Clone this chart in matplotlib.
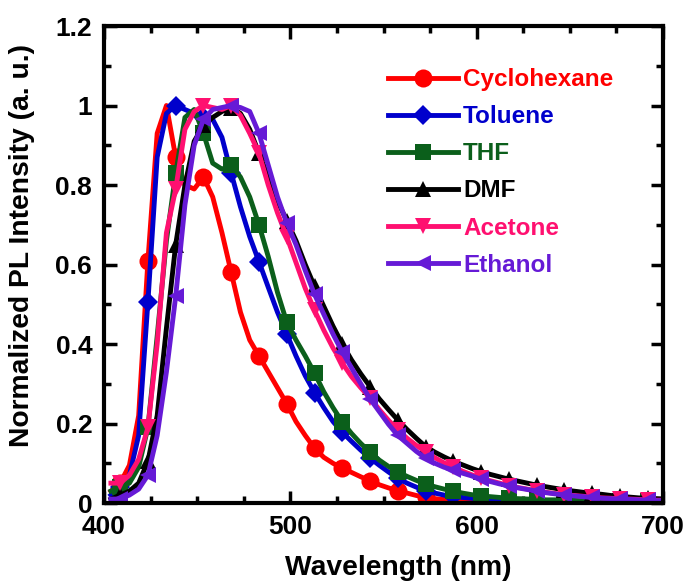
import numpy as np
import matplotlib
matplotlib.use("Agg")
import matplotlib.pyplot as plt
from matplotlib.ticker import MultipleLocator, FuncFormatter

plt.rcParams['font.family'] = ['Liberation Sans', 'DejaVu Sans']
plt.rcParams['font.weight'] = 'bold'

# wavelength grid (nm), markers on every 3rd point
wavelength = np.linspace(403.7, 701.7, 61)

cyclohexane = [0.03, 0.05, 0.095, 0.22, 0.61, 0.93, 1.0, 0.87, 0.80, 0.79,
               0.82, 0.77, 0.68, 0.58, 0.48, 0.41, 0.37, 0.33, 0.29, 0.25,
               0.205, 0.17, 0.138, 0.115, 0.10, 0.088, 0.077, 0.066, 0.056, 0.046,
               0.038, 0.031, 0.025, 0.019, 0.014, 0.011, 0.009, 0.007, 0.006, 0.005,
               0.005, 0.004, 0.004, 0.003, 0.003, 0.003, 0.002, 0.002, 0.002, 0.002,
               0.002, 0.001, 0.001, 0.001, 0.001, 0.001, 0.001, 0.001, 0.001, 0.001, 0.001]
toluene = [0.02, 0.04, 0.07, 0.17, 0.506, 0.87, 0.98, 1.0, 0.99, 0.98,
           0.97, 0.965, 0.92, 0.83, 0.745, 0.67, 0.607, 0.543, 0.48, 0.425,
           0.37, 0.32, 0.278, 0.24, 0.205, 0.178, 0.155, 0.133, 0.113, 0.095,
           0.078, 0.062, 0.05, 0.04, 0.03, 0.025, 0.02, 0.017, 0.014, 0.012,
           0.01, 0.009, 0.008, 0.007, 0.006, 0.006, 0.005, 0.005, 0.004, 0.004,
           0.004, 0.003, 0.003, 0.003, 0.003, 0.002, 0.002, 0.002, 0.002, 0.002, 0.002]
thf = [0.03, 0.04, 0.05, 0.09, 0.19, 0.42, 0.66, 0.83, 0.97, 0.99,
       0.93, 0.855, 0.84, 0.85, 0.82, 0.77, 0.70, 0.62, 0.53, 0.455,
       0.41, 0.37, 0.327, 0.28, 0.24, 0.204, 0.175, 0.15, 0.128, 0.108,
       0.092, 0.078, 0.067, 0.057, 0.048, 0.041, 0.035, 0.03, 0.025, 0.021,
       0.018, 0.016, 0.014, 0.012, 0.011, 0.01, 0.009, 0.008, 0.008, 0.007,
       0.007, 0.006, 0.006, 0.006, 0.005, 0.005, 0.005, 0.005, 0.005, 0.004, 0.004]
dmf = [0.01, 0.02, 0.03, 0.05, 0.105, 0.22, 0.44, 0.65, 0.80, 0.91,
       0.95, 0.97, 0.985, 0.995, 0.98, 0.94, 0.88, 0.82, 0.76, 0.71,
       0.66, 0.60, 0.545, 0.495, 0.445, 0.40, 0.36, 0.325, 0.293, 0.262,
       0.235, 0.209, 0.185, 0.163, 0.142, 0.128, 0.116, 0.105, 0.096, 0.087,
       0.079, 0.072, 0.066, 0.06, 0.055, 0.05, 0.045, 0.041, 0.037, 0.033,
       0.03, 0.027, 0.024, 0.022, 0.019, 0.017, 0.015, 0.013, 0.012, 0.011, 0.01]
acetone = [0.05, 0.05, 0.07, 0.11, 0.19, 0.40, 0.68, 0.79, 0.94, 0.985,
           1.0, 0.995, 0.99, 1.0, 0.975, 0.93, 0.88, 0.80, 0.73, 0.67,
           0.605, 0.54, 0.485, 0.435, 0.39, 0.352, 0.318, 0.29, 0.265, 0.235,
           0.208, 0.184, 0.163, 0.145, 0.129, 0.114, 0.101, 0.091, 0.08, 0.071,
           0.063, 0.056, 0.05, 0.044, 0.039, 0.035, 0.031, 0.027, 0.024, 0.021,
           0.019, 0.017, 0.015, 0.013, 0.012, 0.011, 0.01, 0.009, 0.008, 0.007, 0.007]
ethanol = [0.01, 0.01, 0.02, 0.035, 0.07, 0.17, 0.33, 0.52, 0.75, 0.90,
           0.965, 0.99, 0.995, 1.0, 0.995, 0.985, 0.93, 0.85, 0.77, 0.705,
           0.65, 0.585, 0.525, 0.475, 0.425, 0.38, 0.34, 0.30, 0.262, 0.23,
           0.198, 0.17, 0.15, 0.13, 0.113, 0.10, 0.09, 0.083, 0.075, 0.068,
           0.06, 0.054, 0.048, 0.043, 0.038, 0.034, 0.03, 0.026, 0.023, 0.02,
           0.018, 0.016, 0.014, 0.012, 0.011, 0.01, 0.009, 0.008, 0.007, 0.006, 0.006]

labels = ["Cyclohexane", "Toluene", "THF", "DMF", "Acetone", "Ethanol"]
series = [cyclohexane, toluene, thf, dmf, acetone, ethanol]
colors = ["#FF0000", "#0000CC", "#0B5F1B", "#000000", "#FF1070", "#661AD6"]
markers = ["o", "D", "s", "^", "v", "<"]
msizes = [13, 10, 12, 12, 12, 12]

fig = plt.figure(figsize=(6.92, 5.86), dpi=100)
ax = fig.add_axes([0.1503, 0.1416, 0.8078, 0.814])

for y, lab, c, m, ms in zip(series, labels, colors, markers, msizes):
    ax.plot(wavelength, y, color=c, lw=3.5, marker=m, ms=ms, mec=c, mew=0,
            markevery=(1, 3), label=lab, clip_on=True)

ax.set_xlim(400, 700)
ax.set_ylim(0, 1.2)
ax.xaxis.set_major_locator(MultipleLocator(100))
ax.xaxis.set_minor_locator(MultipleLocator(25))
ax.yaxis.set_major_locator(MultipleLocator(0.2))
ax.yaxis.set_minor_locator(MultipleLocator(0.1))
ax.yaxis.set_major_formatter(FuncFormatter(lambda v, p: f"{v:g}"))

for s in ax.spines.values():
    s.set_linewidth(3)
ax.tick_params(which="both", direction="in", top=True, right=True, width=2.5,
               labelsize=19, pad=8.5)
ax.tick_params(which="major", length=9)
ax.tick_params(which="minor", length=5)

ax.set_xlabel("Wavelength (nm)", fontsize=20.3, fontweight="bold")
ax.set_ylabel("Normalized PL Intensity (a. u.)", fontsize=20.3,
              fontweight="bold")
ax.xaxis.set_label_coords(0.527, -0.108)
ax.yaxis.set_label_coords(-0.123, 0.539)

leg = ax.legend(loc="upper left", bbox_to_anchor=(0.49, 0.932), frameon=False,
                fontsize=17.5, handlelength=2.9, handletextpad=0.2,
                labelspacing=0.58, borderaxespad=0)
for txt, c in zip(leg.get_texts(), colors):
    txt.set_color(c)
    txt.set_fontweight("bold")

fig.savefig("out.png", dpi=100)
